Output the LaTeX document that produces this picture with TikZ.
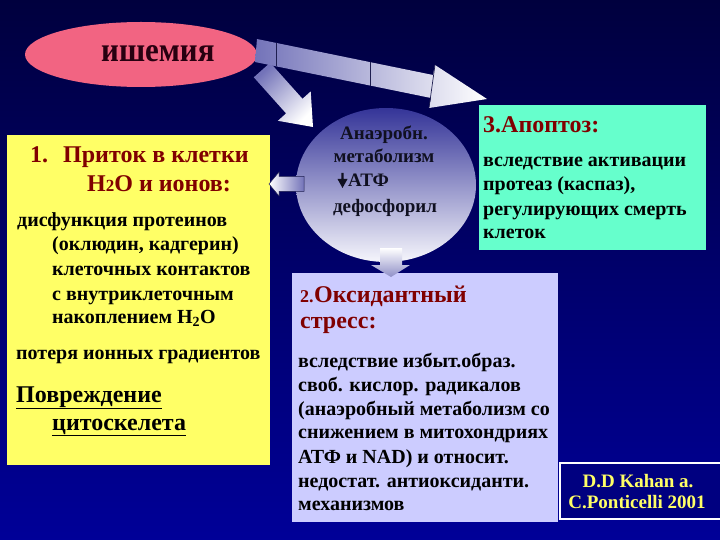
\documentclass[tikz,border=0pt]{standalone}
\usepackage{fontspec}
\usepackage{graphicx}
\setmainfont{Liberation Serif}
\usetikzlibrary{shapes.geometric}
\definecolor{bgtop}{RGB}{0,0,62}
\definecolor{bgbot}{RGB}{0,0,152}
\definecolor{pinkell}{RGB}{242,100,130}
\definecolor{ishtext}{RGB}{40,0,16}
\definecolor{yelbox}{RGB}{255,255,102}
\definecolor{dkred}{RGB}{128,0,0}
\definecolor{cyanbox}{RGB}{102,255,204}
\definecolor{lavbox}{RGB}{204,204,255}
\definecolor{circtop}{RGB}{52,52,152}
\definecolor{circmid}{RGB}{190,190,228}
\definecolor{circbot}{RGB}{246,246,252}
\definecolor{arrblue}{RGB}{115,115,185}
\definecolor{arrline}{RGB}{30,30,80}
\definecolor{citebg}{RGB}{0,0,128}
\definecolor{citetext}{RGB}{255,255,102}
\definecolor{circtext}{RGB}{16,16,32}
\begin{document}
\begin{tikzpicture}[x=1pt,y=-1pt,
  body/.style={font=\fontsize{20}{24}\selectfont\bfseries, text=black, anchor=base west, inner sep=0pt},
  headtxt/.style={font=\fontsize{24}{28}\selectfont\bfseries, text=dkred, anchor=base west, inner sep=0pt},
  bighead/.style={font=\fontsize{24}{28}\selectfont\bfseries, text=black, anchor=base west, inner sep=0pt},
  circtxt/.style={font=\fontsize{19}{23}\selectfont\bfseries, text=circtext, anchor=base, inner sep=0pt},
  citetxt/.style={font=\fontsize{19}{22}\selectfont\bfseries, text=citetext, anchor=base, inner sep=0pt},
  panel/.style={anchor=north west, inner sep=0pt, draw=none},
]
\useasboundingbox (0,0) rectangle (720,540);
\shade[top color=bgtop, bottom color=bgbot] (0,0) rectangle (720,540);

% ischemia ellipse
\node[ellipse, fill=pinkell, minimum width=232pt, minimum height=65pt, inner sep=0pt] (isch) at (141,54.5) {};
\node[font=\fontsize{34}{34}\selectfont\bfseries, text=ishtext, anchor=base west, inner sep=0pt] (ischtxt) at (101,62) {\scalebox{0.91}[1]{ишемия}};

% panels
\node[panel, fill=yelbox, minimum width=263pt, minimum height=330pt] (yel) at (7,135) {};
\node[panel, fill=cyanbox, minimum width=227pt, minimum height=145pt] (cyan) at (479,105) {};
\node[panel, fill=lavbox, minimum width=266pt, minimum height=249pt] (lav) at (292,273) {};
\node[panel, fill=citebg, draw=white, line width=2pt, minimum width=175pt, minimum height=56pt] (citebox) at (559,462) {};

% anaerobic circle
\node[ellipse, minimum width=180pt, minimum height=154pt, inner sep=0pt, top color=circtop, middle color=circmid, bottom color=circbot] (anaer) at (386,185) {};

% diagonal arrow (ischemia -> circle)
\shade[top color=arrblue, bottom color=white, shading angle=45]
  (270.2,62.7) -- (302.5,98.8) -- (310.7,91.4) -- (313,127) -- (277.9,120.8) -- (286.1,113.4) -- (253.8,77.3) -- cycle;

% big arrow (ischemia -> apoptosis)
\shade[left color=arrblue, middle color=white!88!arrblue, right color=white]
  (257,39) -- (433,75) -- (435,65) -- (487,99) -- (429,108) -- (431,98) -- (255,62) -- cycle;
\draw[arrline, line width=0.7pt] (276,43) -- (276,66.3);
\draw[arrline, line width=0.7pt] (370,62.2) -- (370,85.6);
\draw[arrline, line width=0.7pt] (435,65) -- (429,108);

% left arrow (circle -> yellow box)
\shade[left color=white, right color=arrblue, draw=arrline, line width=0.5pt]
  (304,176.5) -- (279,176.5) -- (279,172) -- (269,184) -- (279,196) -- (279,191.5) -- (304,191.5) -- cycle;

% down arrow (circle -> lavender box)
\shade[top color=white, bottom color=arrblue!80!white]
  (380,248) -- (402,248) -- (402,265) -- (410,265) -- (391,277) -- (371,265) -- (380,265) -- cycle;

% yellow panel text
\node[headtxt] (y1n) at (30,163) {1.};
\node[headtxt] (y1) at (63,163) {Приток в клетки};
\node[headtxt] (y2) at (87,192) {H{\fontsize{17}{17}\selectfont 2}O и ионов:};
\node[body] (y3) at (17,226) {дисфункция протеинов};
\node[body] (y4) at (52,250) {(оклюдин, кадгерин)};
\node[body] (y5) at (52,275) {клеточных контактов};
\node[body] (y6) at (52,300) {с внутриклеточным};
\node[body] (y7) at (52,323) {накоплением H\textsubscript{2}O};
\node[body] (y8) at (16,359) {потеря ионных градиентов};
\node[bighead] (y9) at (16,402) {\underline{Повреждение}};
\node[bighead] (y10) at (52,430) {\underline{цитоскелета}};

% circle text
\node[circtxt] (a1) at (384,140) {Анаэробн.};
\node[circtxt] (a2) at (384,163) {метаболизм};
\node[circtxt, anchor=base west] (a3) at (348,187) {АТФ};
\fill[circtext] (341.3,173) rectangle (343.7,179) (337.5,179) -- (347.5,179) -- (342.5,188) -- cycle;
\node[circtxt] (a4) at (385,212) {дефосфорил};

% cyan panel text
\node[headtxt] (c1) at (483,133) {3.Апоптоз:};
\node[body] (c2) at (483,167) {вследствие активации};
\node[body] (c3) at (483,191) {протеаз (каспаз),};
\node[body] (c4) at (483,215) {регулирующих смерть};
\node[body] (c5) at (483,238) {клеток};

% lavender panel text
\node[headtxt, font=\fontsize{18}{20}\selectfont\bfseries] (l0) at (300,302) {2.};
\node[headtxt] (l1) at (314,302) {Оксидантный};
\node[headtxt] (l2) at (300,328) {стресс:};
\node[body] (l3) at (298,367) {вследствие избыт.образ.};
\node[body] (l4) at (298,391) {своб. кислор. радикалов};
\node[body] (l5) at (298,415) {(анаэробный метаболизм со};
\node[body] (l6) at (298,438) {снижением в митохондриях};
\node[body] (l7) at (298,463) {АТФ и NAD) и относит.};
\node[body] (l8) at (298,487) {недостат. антиоксиданти.};
\node[body] (l9) at (298,510) {механизмов};

% citation
\node[citetxt] (ct1) at (638,487) {D.D Kahan a.};
\node[citetxt] (ct2) at (637,508) {C.Ponticelli 2001};
\end{tikzpicture}
\end{document}
